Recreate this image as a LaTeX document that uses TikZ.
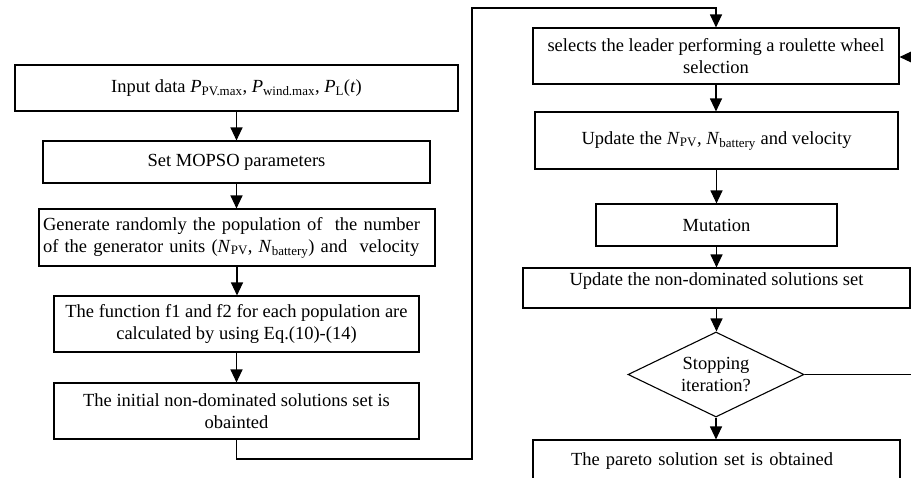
\documentclass[tikz,border=0pt]{standalone}
\usepackage{fontspec}
\setmainfont{Liberation Serif}
\usetikzlibrary{shapes.geometric,arrows.meta}
\newcommand{\vsub}[2]{\textit{#1}\textsubscript{#2}}
\begin{document}
\begin{tikzpicture}[x=1pt,y=-1pt,
  box/.style={draw,line width=1.1pt,inner sep=0pt,font=\fontsize{18.5}{22}\selectfont},
  link/.style={line width=1.1pt,-{Triangle[width=12pt,length=13pt]}}]
\useasboundingbox (0,0) rectangle (911,477);
% left column
\node[box,minimum width=443pt,minimum height=46pt] (b1) at (236.5,88)
  {Input data \vsub{P}{PV.max}, \vsub{P}{wind.max}, \vsub{P}{L}(\textit{t})};
\node[box,minimum width=387pt,minimum height=42pt] (b2) at (236.5,162)
  {Set MOPSO parameters};
\node[box,minimum width=396pt,minimum height=57pt,text width=388pt,inner xsep=4pt,align=left] (b3) at (237,237.5)
  {Generate randomly the population of\ \ the number\\of the generator units (\vsub{N}{PV}, \vsub{N}{battery}) and\ \ velocity};
\node[box,minimum width=365pt,minimum height=56pt,align=center] (b4) at (236.5,324)
  {The function f1 and f2 for each population are\\calculated by using Eq.(10)-(14)};
\node[box,minimum width=365pt,minimum height=56pt,align=center] (b5) at (236.5,411)
  {The initial non-dominated solutions set is\\obainted};
% right column
\node[box,minimum width=366pt,minimum height=56pt,align=center] (b6) at (716,56)
  {selects the leader performing a roulette wheel\\selection};
\node[box,minimum width=363pt,minimum height=57pt] (b7) at (716.5,140.5)
  {Update the \vsub{N}{PV}, \vsub{N}{battery} and velocity};
\node[box,minimum width=241pt,minimum height=42pt] (b8) at (716.5,225)
  {Mutation};
\node[box,minimum width=387pt,minimum height=40pt,text height=13pt,text depth=19pt] (b9) at (716.5,288)
  {Update the non-dominated solutions set};
\node[box,diamond,shape aspect=2.07,minimum width=176pt,minimum height=85pt,align=center] (d) at (716,374.5)
  {Stopping\\iteration?};
\node[box,minimum width=367pt,minimum height=50pt,text height=13pt,text depth=13pt,inner xsep=38pt,text width=291pt,align=left] (b10) at (716.5,465)
  {The pareto solution set is obtained};
% connectors
\draw[link] (b1.south) -- (b1.south |- b2.north);
\draw[link] (b2.south) -- (b2.south |- b3.north);
\draw[link] (b3.south) -- (b3.south |- b4.north);
\draw[link] (b4.south) -- (b4.south |- b5.north);
\coordinate (c1) at (472,459);
\coordinate (c2) at (472,8);
\draw[link] (b5.south) |- (c1) -- (c2) -| (b6.north);
\draw[link] (b6.south) -- (b6.south |- b7.north);
\draw[link] (b7.south) -- (b7.south |- b8.north);
\draw[link] (b8.south) -- (b8.south |- b9.north);
\draw[link] (b9.south) -- (b9.south |- d.north);
\draw[link] (d.south) -- (d.south |- b10.north);
\coordinate (c3) at (916,374.5);
\coordinate (c4) at (916,57);
\draw[link] (d.east) -- (c3) -- (c4) -- (b6.east |- c4);
\end{tikzpicture}
\end{document}
